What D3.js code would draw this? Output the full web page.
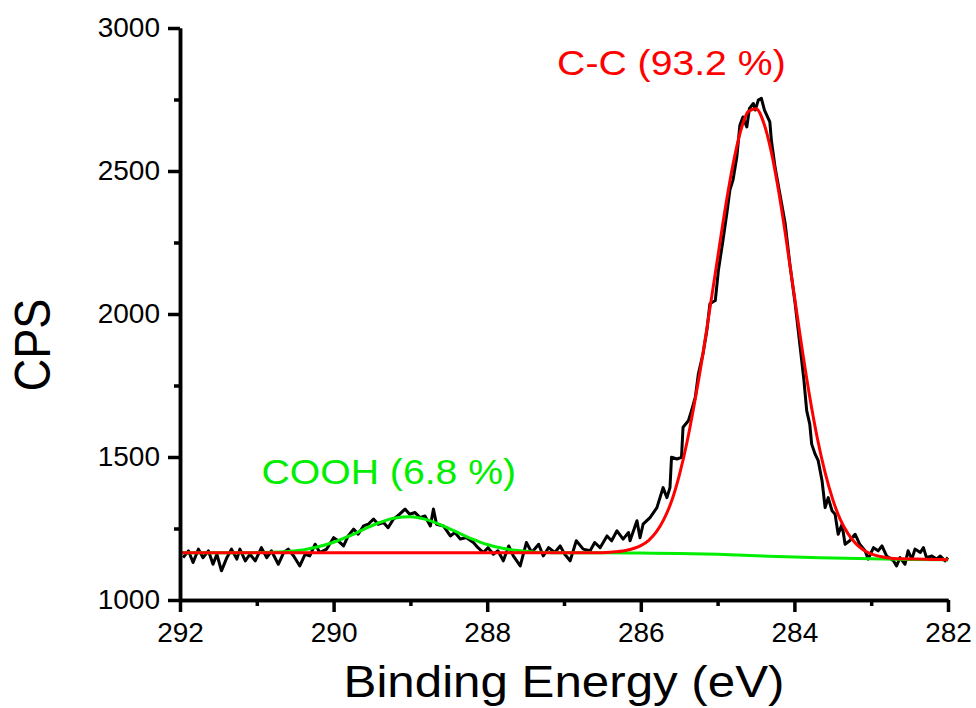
<!DOCTYPE html>
<html>
<head>
<meta charset="utf-8">
<script src="https://cdn.jsdelivr.net/npm/d3@7"></script>
<style>
  html, body { margin: 0; padding: 0; background: #fff; }
  svg { display: block; font-family: "Liberation Sans", Arial, sans-serif; }
</style>
</head>
<body>
<svg id="chart" width="976" height="708"></svg>
<script>
// ---- data ----
const rawEnergy = [
  291.96,291.89,291.83,291.76,291.70,291.63,291.57,291.52,291.46,291.39,
  291.33,291.26,291.22,291.15,291.09,291.02,290.94,290.87,290.81,290.72,
  290.65,290.59,290.52,290.44,290.37,290.31,290.24,290.18,290.09,290.00,
  289.94,289.87,289.81,289.74,289.68,289.61,289.55,289.48,289.42,289.35,
  289.29,289.22,289.14,289.07,289.01,288.94,288.875,288.81,288.74,288.70,
  288.66,288.57,288.48,288.42,288.35,288.27,288.18,288.12,288.05,287.99,
  287.92,287.86,287.79,287.72,287.66,287.57,287.49,287.42,287.33,287.27,
  287.20,287.12,287.05,286.99,286.92,286.84,286.75,286.66,286.60,286.53,
  286.44,286.38,286.31,286.23,286.16,286.14,286.05,286.01,285.97,285.88,
  285.79,285.71,285.66,285.62,285.60,285.53,285.47,285.45,285.38,285.34,
  285.29,285.25,285.19,285.14,285.10,285.03,284.99,284.93,284.88,284.84,
  284.80,284.75,284.71,284.67,284.62,284.585,284.535,284.51,284.47,284.43,
  284.39,284.32,284.30,284.25,284.19,284.12,284.06,283.99,283.93,283.88,
  283.84,283.80,283.775,283.73,283.69,283.64,283.60,283.56,283.51,283.47,
  283.43,283.38,283.34,283.28,283.21,283.15,283.08,283.04,282.97,282.91,
  282.86,282.80,282.71,282.67,282.625,282.56,282.52,282.47,282.43,282.36,
  282.32,282.28,282.21,282.15,282.10,282.04,282.00
];
const rawCPS = [
  1148,1172,1131,1178,1148,1172,1125,1160,1102,1148,
  1178,1143,1178,1137,1160,1137,1183,1148,1172,1125,
  1166,1178,1154,1119,1160,1154,1195,1166,1178,1218,
  1207,1189,1224,1248,1230,1259,1265,1283,1265,1271,
  1253,1283,1300,1318,1300,1306,1288,1294,1259,1318,
  1265,1259,1224,1236,1213,1218,1201,1183,1166,1183,
  1160,1172,1137,1189,1154,1119,1201,1166,1195,1154,
  1183,1166,1189,1160,1137,1207,1178,1172,1201,1183,
  1224,1207,1242,1213,1236,1207,1277,1218,1265,1288,
  1323,1393,1358,1393,1499,1493,1499,1604,1627,1662,
  1709,1791,1861,1942,2036,2047,2152,2258,2351,2433,
  2468,2549,2660,2689,2654,2719,2736,2713,2748,2754,
  2713,2672,2608,2510,2421,2316,2176,2036,1896,1779,
  1662,1615,1545,1510,1487,1417,1323,1358,1312,1300,
  1230,1265,1195,1207,1230,1195,1172,1143,1183,1172,
  1189,1154,1137,1119,1148,1125,1172,1143,1178,1166,
  1183,1148,1154,1143,1154,1137,1148
];

// C-C component + background (red)
const ccEnergy = [292.0,287.0,286.6,286.4,286.2,286.0,285.9,285.8,285.7,285.6,285.5,285.4,285.3,285.2,285.1,285.0,
  284.9,284.8,284.7,284.6,284.5,284.4,284.3,284.2,284.1,284.0,283.9,283.8,283.7,283.6,283.5,283.4,283.3,283.2,283.1,
  283.0,282.8,282.6,282.4,282.2,282.0];
const ccCPS = [1165,1165,1165,1167,1173,1190,1208,1237,1282,1345,1435,1550,1690,1845,2020,2195,
  2370,2522,2640,2708,2718,2669,2566,2421,2248,2062,1879,1710,1564,1445,1351,1280,1231,1197,1175,
  1161,1148,1144,1143,1142,1141];

// COOH component + background (green)
const coohEnergy = [292.0,291.2,291.0,290.8,290.6,290.4,290.2,290.0,289.8,289.6,289.4,289.2,289.0,288.8,288.6,
  288.4,288.2,288.0,287.8,287.6,287.4,287.2,287.0,286.5,286.0,285.5,285.0,284.5,284.0,283.5,283.0,282.5,282.0];
const coohCPS = [1165,1165,1166,1167,1170,1175,1186,1202,1223,1248,1271,1287,1291,1282,1262,
  1238,1214,1194,1181,1173,1168,1166,1165,1165,1164,1163,1160,1155,1150,1147,1144,1142,1141];

const xMajorTicks = [292, 290, 288, 286, 284, 282];
const xMinorTicks = [291, 289, 287, 285, 283];
const yMajorTicks = [1000, 1500, 2000, 2500, 3000];
const yMinorTicks = [1250, 1750, 2250, 2750];

const labels = [
  { text: "C-C (93.2 %)", color: "#ff0000", e: 287.09, v: 2835 },
  { text: "COOH (6.8 %)", color: "#00ee00", e: 290.94, v: 1406 }
];

// ---- drawing ----
const svg = d3.select("#chart");
const x = d3.scaleLinear().domain([292, 282]).range([180, 948]);
const y = d3.scaleLinear().domain([1000, 3000]).range([600, 28]);
const stretch = 1.1;

const line = d3.line().x(d => x(d[0])).y(d => y(d[1]));
const raw = rawEnergy.map((e, i) => [e, rawCPS[i]]);
const cc = ccEnergy.map((e, i) => [e, ccCPS[i]]);
const cooh = coohEnergy.map((e, i) => [e, coohCPS[i]]);

svg.append("path").datum(raw).attr("d", line)
  .attr("fill", "none").attr("stroke", "#000").attr("stroke-width", 3).attr("stroke-linejoin", "round");
svg.append("path").datum(cooh).attr("d", line.curve(d3.curveMonotoneX))
  .attr("fill", "none").attr("stroke", "#00ee00").attr("stroke-width", 3);
svg.append("path").datum(cc).attr("d", line.curve(d3.curveMonotoneX))
  .attr("fill", "none").attr("stroke", "#ff0000").attr("stroke-width", 3);

// axes
function styleAxis(g) {
  g.select(".domain").attr("stroke-width", 3.5).attr("stroke", "#000");
  g.selectAll(".tick line").attr("stroke-width", 3.5).attr("stroke", "#000");
}
const gxMinor = svg.append("g").attr("transform", "translate(0,600)")
  .call(d3.axisBottom(x).tickValues(xMinorTicks).tickSize(6).tickSizeOuter(0).tickFormat(""));
styleAxis(gxMinor);
const gx = svg.append("g").attr("transform", "translate(0,600)")
  .call(d3.axisBottom(x).tickValues(xMajorTicks).tickSize(12).tickSizeOuter(0).tickPadding(10).tickFormat(d3.format("d")));
styleAxis(gx);
gx.selectAll(".tick text").attr("font-size", 28).attr("fill", "#000")
  .attr("font-family", "Liberation Sans, Arial, sans-serif");

const gyMinor = svg.append("g").attr("transform", "translate(180,0)")
  .call(d3.axisLeft(y).tickValues(yMinorTicks).tickSize(6).tickSizeOuter(0).tickFormat(""));
styleAxis(gyMinor);
const gy = svg.append("g").attr("transform", "translate(180,0)")
  .call(d3.axisLeft(y).tickValues(yMajorTicks).tickSize(12).tickSizeOuter(0).tickPadding(8).tickFormat(d3.format("d")));
styleAxis(gy);
gy.selectAll(".tick text").attr("font-size", 28).attr("fill", "#000")
  .attr("font-family", "Liberation Sans, Arial, sans-serif");

// axis titles
svg.append("text")
  .attr("transform", `translate(${(x.range()[0] + x.range()[1]) / 2},697) scale(1.12,1)`)
  .attr("text-anchor", "middle").attr("font-size", 44).attr("fill", "#000")
  .text("Binding Energy (eV)");
svg.append("text")
  .attr("transform", `translate(50,345) scale(${stretch},1) rotate(-90)`)
  .attr("text-anchor", "middle").attr("font-size", 45).attr("fill", "#000")
  .text("CPS");

// peak labels
labels.forEach(l => {
  svg.append("text")
    .attr("transform", `translate(${x(l.e)},${y(l.v)}) scale(1.12,1)`)
    .attr("font-size", 35).attr("fill", l.color)
    .text(l.text);
});
</script>
</body>
</html>
